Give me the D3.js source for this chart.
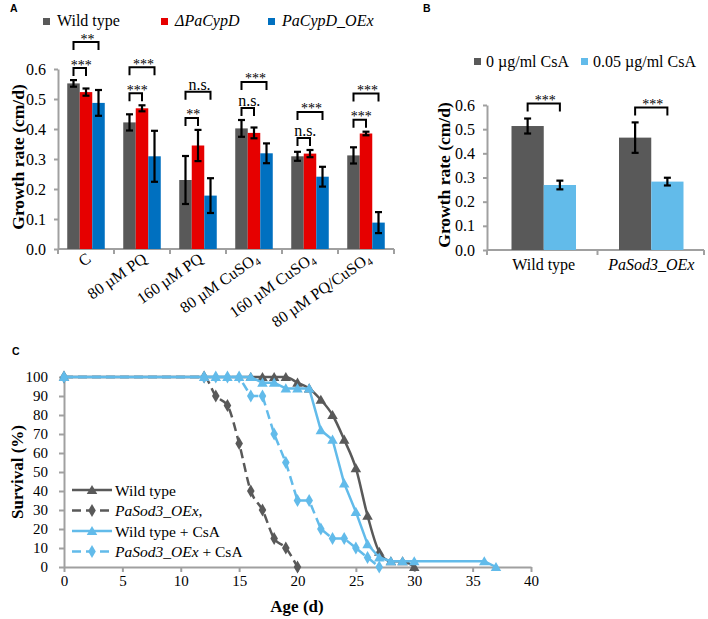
<!DOCTYPE html>
<html><head><meta charset="utf-8">
<script src="https://cdn.jsdelivr.net/npm/d3@7"></script>
<style>
body{margin:0;background:#fff}
svg{display:block}
text{font-family:"Liberation Serif","Times New Roman",serif;fill:#000}
</style>
</head><body>
<svg id="c" width="708" height="619"></svg>
<script>
// ---------- DATA ----------
// Panel A
const catsA = ["C", "80 µM PQ", "160 µM PQ", "80 µM CuSO4", "160 µM CuSO4", "80 µM PQ/CuSO4"];
const seriesA = ["Wild type", "ΔPaCypD", "PaCypD_OEx"];
const wtA = [0.552, 0.422, 0.230, 0.402, 0.309, 0.312];
const wtErrA = [0.011, 0.027, 0.080, 0.028, 0.015, 0.027];
const delA = [0.523, 0.469, 0.345, 0.387, 0.318, 0.385];
const delErrA = [0.012, 0.010, 0.052, 0.018, 0.012, 0.006];
const oexA = [0.487, 0.309, 0.178, 0.319, 0.241, 0.088];
const oexErrA = [0.043, 0.085, 0.058, 0.033, 0.033, 0.035];
const sigInnerA = ["***", "***", "**", "n.s.", "n.s.", "***"];
const sigOuterA = ["**", "***", "n.s.", "***", "***", "***"];
const ticksA = [0, 0.1, 0.2, 0.3, 0.4, 0.5, 0.6];

// Panel B
const catsB = ["Wild type", "PaSod3_OEx"];
const seriesB = ["0 µg/ml CsA", "0.05 µg/ml CsA"];
const noCsA = [0.513, 0.465];
const noCsAErr = [0.031, 0.063];
const withCsA = [0.269, 0.283];
const withCsAErr = [0.018, 0.016];
const sigB = ["***", "***"];
const ticksB = [0, 0.1, 0.2, 0.3, 0.4, 0.5, 0.6];

// Panel C
const seriesC = ["Wild type", "PaSod3_OEx,", "Wild type + CsA", "PaSod3_OEx + CsA"];
const wtDays = [0, 16, 17, 18, 19, 20, 21, 22, 23, 24, 25, 26, 27, 28, 29, 30];
const wtSurv = [100, 100, 100, 100, 100, 97, 94, 88, 80, 67, 52, 27, 8, 3, 3, 0];
const sodDays = [0, 12, 13, 14, 15, 16, 17, 18, 19, 20];
const sodSurv = [100, 100, 90, 85, 65, 40, 30, 15, 10, 0];
const wtCsaDays = [0, 12, 13, 14, 15, 16, 17, 18, 19, 20, 21, 22, 23, 24, 25, 26, 27, 28, 29, 30, 36, 37];
const wtCsaSurv = [100, 100, 100, 100, 100, 100, 97, 97, 94, 94, 94, 72, 67, 44, 29, 12, 5, 3, 3, 3, 3, 0];
const sodCsaDays = [0, 12, 13, 14, 15, 16, 17, 18, 19, 20, 21, 22, 23, 24, 25, 26, 27];
const sodCsaSurv = [100, 100, 100, 100, 100, 90, 90, 70, 55, 35, 35, 20, 15, 15, 10, 5, 0];
const ticksCx = [0, 5, 10, 15, 20, 25, 30, 35, 40];
const ticksCy = [0, 10, 20, 30, 40, 50, 60, 70, 80, 90, 100];

// ---------- STYLE ----------
const GRAY = "#595959", RED = "#e60000", BLUE = "#0070c0", LBLUE = "#62bbea";
const AXC = "#a0a0a0";
const svg = d3.select("#c");

function rich(t, str, fs) {
  const parts = str.split(/(ΔPaCypD|PaCypD_OEx|PaSod3_OEx|CuSO4)/).filter(s => s.length);
  parts.forEach(p => {
    if (p === "CuSO4") {
      t.append("tspan").text("CuSO");
      t.append("tspan").attr("font-size", fs * 0.65).attr("dy", fs * 0.18).text("4");
    } else if (/PaCypD|PaSod3/.test(p)) {
      t.append("tspan").attr("font-style", "italic").text(p);
    } else {
      t.append("tspan").text(p);
    }
  });
}
function styleAxis(g, fs) {
  g.select(".domain").attr("stroke", AXC).attr("stroke-width", 2);
  g.selectAll(".tick line").attr("stroke", AXC).attr("stroke-width", 2);
  g.selectAll(".tick text").attr("font-size", fs).attr("fill", "#000")
    .style("font-family", '"Liberation Serif","Times New Roman",serif');
}
function panelLetter(x, y, s) {
  svg.append("text").attr("x", x).attr("y", y).text(s)
    .style("font-family", '"Liberation Sans",Arial,sans-serif')
    .attr("font-weight", "bold").attr("font-size", 10.5);
}
function errBar(g, x, y1, y2) {
  g.append("line").attr("x1", x).attr("x2", x).attr("y1", y1).attr("y2", y2)
    .attr("stroke", "#000").attr("stroke-width", 2.2);
  [y1, y2].forEach(y => g.append("line").attr("x1", x - 3.5).attr("x2", x + 3.5)
    .attr("y1", y).attr("y2", y).attr("stroke", "#000").attr("stroke-width", 2.2));
}
function bracket(g, xa, xb, y, label) {
  g.append("path").attr("d", `M${xa},${y + 8}V${y}H${xb}V${y + 8}`)
    .attr("fill", "none").attr("stroke", "#000").attr("stroke-width", 2);
  const star = label.indexOf("*") >= 0;
  g.append("text").attr("x", (xa + xb) / 2 + 1.5).attr("y", star ? y + 1.5 : y - 2)
    .attr("text-anchor", "middle").attr("font-size", star ? 14 : 16)
    .attr("fill", star ? "#333" : "#000").text(label);
}

// ---------- PANEL A ----------
panelLetter(10, 11.5, "A");
const yA = d3.scaleLinear().domain([0, 0.6]).range([249, 69]);
const x0A = d3.scaleBand().domain(catsA).range([58, 394]).paddingInner(0.33).paddingOuter(0.165);
const x1A = d3.scaleBand().domain([0, 1, 2]).range([0, x0A.bandwidth()]);
const valsA = [wtA, delA, oexA], errsA = [wtErrA, delErrA, oexErrA], colA = [GRAY, RED, BLUE];
const gA = svg.append("g");
gA.append("g").attr("transform", "translate(58,0)")
  .call(d3.axisLeft(yA).tickValues(ticksA).tickFormat(d3.format(".1f")).tickSize(4).tickSizeOuter(0).tickPadding(8))
  .call(g => styleAxis(g, 16));
// x axis
gA.append("line").attr("x1", 58).attr("x2", 394).attr("y1", yA(0)).attr("y2", yA(0))
  .attr("stroke", AXC).attr("stroke-width", 2);
d3.range(catsA.length + 1).forEach(i => {
  const x = x0A.range()[0] + i * x0A.step();
  gA.append("line").attr("x1", x).attr("x2", x).attr("y1", yA(0)).attr("y2", yA(0) + 5)
    .attr("stroke", AXC).attr("stroke-width", 2);
});
catsA.forEach(c => {
  const cx = x0A(c) + x0A.bandwidth() / 2;
  const t = gA.append("text").attr("text-anchor", "end").attr("font-size", 16)
    .attr("transform", `translate(${cx + 6},${yA(0) + 12}) rotate(-35)`);
  rich(t, c, 16);
});
valsA.forEach((vals, s) => {
  vals.forEach((v, i) => {
    gA.append("rect").attr("x", x0A(catsA[i]) + x1A(s)).attr("width", x1A.bandwidth())
      .attr("y", yA(v)).attr("height", yA(0) - yA(v)).attr("fill", colA[s]);
  });
});
valsA.forEach((vals, s) => {
  vals.forEach((v, i) => {
    const cx = x0A(catsA[i]) + x1A(s) + x1A.bandwidth() / 2;
    errBar(gA, cx, yA(v + errsA[s][i]), yA(v - errsA[s][i]));
  });
});
catsA.forEach((c, i) => {
  const cxs = [0, 1, 2].map(s => x0A(c) + x1A(s) + x1A.bandwidth() / 2);
  const inner = Math.max(wtA[i] + wtErrA[i], delA[i] + delErrA[i]) + 0.04;
  const outer = inner + 0.087;
  bracket(gA, cxs[0], cxs[1], yA(inner), sigInnerA[i]);
  bracket(gA, cxs[0], cxs[2], yA(outer), sigOuterA[i]);
});
gA.append("text").attr("transform", "translate(24,157) rotate(-90)").attr("text-anchor", "middle")
  .attr("font-weight", "bold").attr("font-size", 17.5).text("Growth rate (cm/d)");
// legend A
const legAx = [43, 161, 268];
seriesA.forEach((s, i) => {
  gA.append("rect").attr("x", legAx[i]).attr("y", 18).attr("width", 7).attr("height", 7).attr("fill", colA[i]);
  const t = gA.append("text").attr("x", legAx[i] + 14).attr("y", 26).attr("font-size", 16);
  rich(t, s, 16);
});

// ---------- PANEL B ----------
panelLetter(423, 11.5, "B");
const yB = d3.scaleLinear().domain([0, 0.6]).range([250, 105]);
const x0B = d3.scaleBand().domain(catsB).range([490, 705]).paddingInner(0.4).paddingOuter(0.2);
const x1B = d3.scaleBand().domain([0, 1]).range([0, x0B.bandwidth()]);
const valsB = [noCsA, withCsA], errsB = [noCsAErr, withCsAErr], colB = [GRAY, LBLUE];
const gB = svg.append("g");
gB.append("g").attr("transform", "translate(487,0)")
  .call(d3.axisLeft(yB).tickValues(ticksB).tickFormat(d3.format(".1f")).tickSize(4).tickSizeOuter(0).tickPadding(8))
  .call(g => styleAxis(g, 16));
gB.append("line").attr("x1", 487).attr("x2", 704).attr("y1", yB(0)).attr("y2", yB(0))
  .attr("stroke", AXC).attr("stroke-width", 2);
[487, 597.5, 704].forEach(x => gB.append("line").attr("x1", x).attr("x2", x)
  .attr("y1", yB(0)).attr("y2", yB(0) + 5).attr("stroke", AXC).attr("stroke-width", 2));
catsB.forEach(c => {
  const t = gB.append("text").attr("x", x0B(c) + x0B.bandwidth() / 2).attr("y", yB(0) + 20)
    .attr("text-anchor", "middle").attr("font-size", 16);
  rich(t, c, 16);
});
valsB.forEach((vals, s) => vals.forEach((v, i) => {
  gB.append("rect").attr("x", x0B(catsB[i]) + x1B(s)).attr("width", x1B.bandwidth())
    .attr("y", yB(v)).attr("height", yB(0) - yB(v)).attr("fill", colB[s]);
}));
valsB.forEach((vals, s) => vals.forEach((v, i) => {
  const cx = x0B(catsB[i]) + x1B(s) + x1B.bandwidth() / 2;
  errBar(gB, cx, yB(v + errsB[s][i]), yB(v - errsB[s][i]));
}));
catsB.forEach((c, i) => {
  const xa = x0B(c) + x1B(0) + x1B.bandwidth() / 2, xb = x0B(c) + x1B(1) + x1B.bandwidth() / 2;
  const lvl = Math.max(noCsA[i] + noCsAErr[i], withCsA[i] + withCsAErr[i]) + 0.062;
  bracket(gB, xa, xb, yB(lvl), sigB[i]);
});
gB.append("text").attr("transform", "translate(450,175) rotate(-90)").attr("text-anchor", "middle")
  .attr("font-weight", "bold").attr("font-size", 17.5).text("Growth rate (cm/d)");
const legBx = [474, 581];
seriesB.forEach((s, i) => {
  gB.append("rect").attr("x", legBx[i]).attr("y", 58).attr("width", 7).attr("height", 7).attr("fill", colB[i]);
  gB.append("text").attr("x", legBx[i] + 12).attr("y", 66.5).attr("font-size", 16).text(s);
});

// ---------- PANEL C ----------
panelLetter(12, 355, "C");
const xC = d3.scaleLinear().domain([0, 40]).range([64, 531]);
const yC = d3.scaleLinear().domain([0, 100]).range([567, 377]);
const gC = svg.append("g");
gC.append("g").attr("transform", "translate(64,0)")
  .call(d3.axisLeft(yC).tickValues(ticksCy).tickSize(5).tickSizeOuter(0).tickPadding(11))
  .call(g => styleAxis(g, 15));
gC.append("g").attr("transform", `translate(0,${yC(0)})`)
  .call(d3.axisBottom(xC).tickValues(ticksCx).tickSize(5).tickSizeOuter(0).tickPadding(3))
  .call(g => styleAxis(g, 15));
gC.append("text").attr("transform", "translate(23,472) rotate(-90)").attr("text-anchor", "middle")
  .attr("font-weight", "bold").attr("font-size", 17).text("Survival (%)");
gC.append("text").attr("x", 297).attr("y", 612).attr("text-anchor", "middle")
  .attr("font-weight", "bold").attr("font-size", 17).text("Age (d)");

const tri = d3.symbol().type(d3.symbolTriangle).size(48);
const dia = d3.symbol().type(d3.symbolDiamond).size(50);
const specsC = [
  {days: wtDays, surv: wtSurv, color: GRAY, dash: null, sym: tri, curve: d3.curveMonotoneX},
  {days: sodDays, surv: sodSurv, color: GRAY, dash: "9,5", sym: dia, curve: d3.curveMonotoneX},
  {days: wtCsaDays, surv: wtCsaSurv, color: LBLUE, dash: null, sym: tri, curve: d3.curveLinear},
  {days: sodCsaDays, surv: sodCsaSurv, color: LBLUE, dash: "9,5", sym: dia, curve: d3.curveLinear}
];
specsC.forEach(sp => {
  const pts = sp.days.map((d, i) => [xC(d), yC(sp.surv[i])]);
  gC.append("path").attr("d", d3.line().curve(sp.curve)(pts)).attr("fill", "none")
    .attr("stroke", sp.color).attr("stroke-width", 2.5)
    .attr("stroke-dasharray", sp.dash);
  pts.forEach(p => gC.append("path").attr("d", sp.sym())
    .attr("transform", `translate(${p[0]},${p[1] + (sp.sym === tri ? 1 : 0)})`).attr("fill", sp.color));
});
// legend C
seriesC.forEach((s, i) => {
  const y = 490 + i * 20.5, sp = specsC[i];
  gC.append("line").attr("x1", 72).attr("x2", 112).attr("y1", y).attr("y2", y)
    .attr("stroke", sp.color).attr("stroke-width", 2.5).attr("stroke-dasharray", sp.dash);
  gC.append("path").attr("d", sp.sym()).attr("transform", `translate(92,${y + (sp.sym === tri ? 1 : 0)})`).attr("fill", sp.color);
  const t = gC.append("text").attr("x", 115).attr("y", y + 5.5).attr("font-size", 15.5);
  rich(t, s, 15.5);
});
</script>
</body></html>
